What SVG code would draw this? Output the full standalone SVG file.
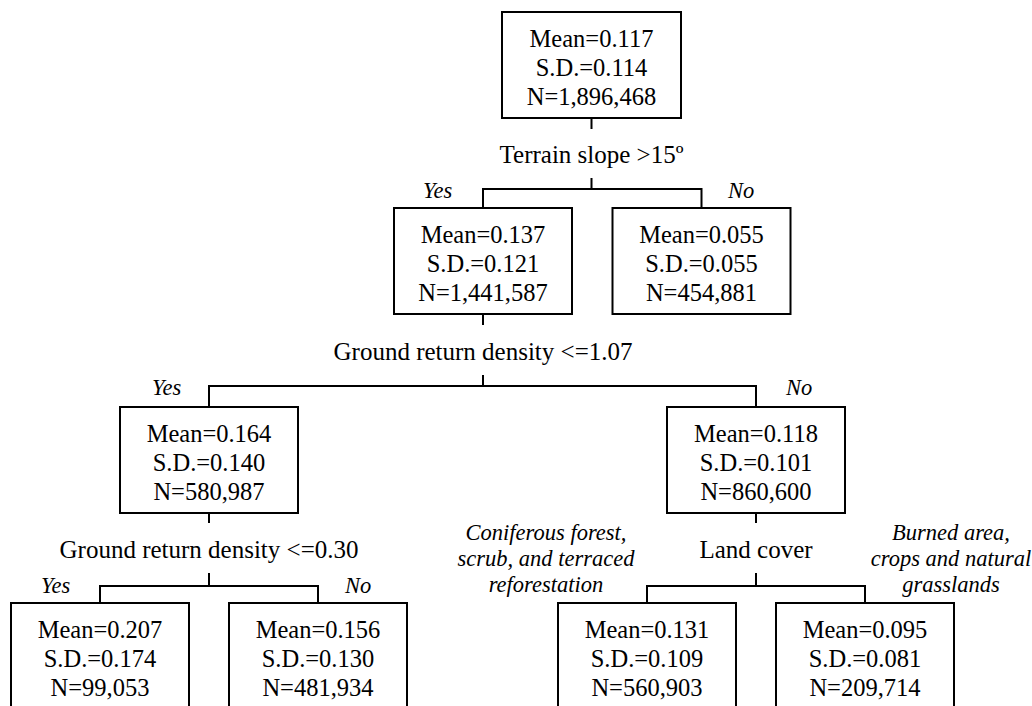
<svg xmlns="http://www.w3.org/2000/svg" width="1032" height="706" viewBox="0 0 1032 706">
<style>
.box{fill:#fff;stroke:#000;stroke-width:2}
.t{font-family:"Liberation Serif","Times New Roman",serif;font-size:24.5px;fill:#000;text-anchor:middle}
.c{font-family:"Liberation Serif","Times New Roman",serif;font-size:25px;fill:#000;text-anchor:middle}
.i{font-family:"Liberation Serif","Times New Roman",serif;font-size:22.5px;font-style:italic;fill:#000}
.m{text-anchor:middle}
.ln{fill:none;stroke:#000;stroke-width:2}
</style>
<rect width="1032" height="706" fill="#fff"/>
<g id="connectors">
<path class="ln" d="M591.5,118 V129 M591.5,178 V189 M483,208 V189 H701.5 V208"/>
<path class="ln" d="M483,314 V325 M483,375 V386 M209,407 V386 H756 V407"/>
<path class="ln" d="M209,513 V523 M209,573 V586 M100,603 V586 H318 V603"/>
<path class="ln" d="M756,513 V523 M756,573 V586 M647,603 V586 H865 V603"/>
<text class="c" x="591.5" y="163">Terrain slope &gt;15º</text>
<text class="c" x="483" y="360">Ground return density &lt;=1.07</text>
<text class="c" x="209" y="558">Ground return density &lt;=0.30</text>
<text class="c" x="756" y="558">Land cover</text>
<text class="i" x="423" y="198">Yes</text>
<text class="i" x="728" y="198">No</text>
<text class="i" x="152" y="395">Yes</text>
<text class="i" x="786" y="395">No</text>
<text class="i" x="41" y="593">Yes</text>
<text class="i" x="345" y="593">No</text>
<text class="i m" x="546" y="540">Coniferous forest,</text>
<text class="i m" x="546" y="566">scrub, and terraced</text>
<text class="i m" x="546" y="592">reforestation</text>
<text class="i m" x="951" y="540">Burned area,</text>
<text class="i m" x="951" y="566">crops and natural</text>
<text class="i m" x="951" y="592">grasslands</text>
</g>
<g id="root">
<rect class="box" x="502" y="12" width="179" height="106"/>
<text class="t" x="591.5" y="47">Mean=0.117</text>
<text class="t" x="591.5" y="76">S.D.=0.114</text>
<text class="t" x="591.5" y="105">N=1,896,468</text>
</g>
<g id="n1">
<rect class="box" x="394" y="208" width="178" height="106"/>
<text class="t" x="483" y="243">Mean=0.137</text>
<text class="t" x="483" y="272">S.D.=0.121</text>
<text class="t" x="483" y="301">N=1,441,587</text>
</g>
<g id="n2">
<rect class="box" x="612.5" y="208" width="178" height="106"/>
<text class="t" x="701.5" y="243">Mean=0.055</text>
<text class="t" x="701.5" y="272">S.D.=0.055</text>
<text class="t" x="701.5" y="301">N=454,881</text>
</g>
<g id="n3">
<rect class="box" x="120" y="407" width="178" height="106"/>
<text class="t" x="209" y="442">Mean=0.164</text>
<text class="t" x="209" y="471">S.D.=0.140</text>
<text class="t" x="209" y="500">N=580,987</text>
</g>
<g id="n4">
<rect class="box" x="667" y="407" width="178" height="106"/>
<text class="t" x="756" y="442">Mean=0.118</text>
<text class="t" x="756" y="471">S.D.=0.101</text>
<text class="t" x="756" y="500">N=860,600</text>
</g>
<g id="n5">
<rect class="box" x="11" y="603" width="178" height="106"/>
<text class="t" x="100" y="638">Mean=0.207</text>
<text class="t" x="100" y="667">S.D.=0.174</text>
<text class="t" x="100" y="696">N=99,053</text>
</g>
<g id="n6">
<rect class="box" x="229" y="603" width="178" height="106"/>
<text class="t" x="318" y="638">Mean=0.156</text>
<text class="t" x="318" y="667">S.D.=0.130</text>
<text class="t" x="318" y="696">N=481,934</text>
</g>
<g id="n7">
<rect class="box" x="558" y="603" width="178" height="106"/>
<text class="t" x="647" y="638">Mean=0.131</text>
<text class="t" x="647" y="667">S.D.=0.109</text>
<text class="t" x="647" y="696">N=560,903</text>
</g>
<g id="n8">
<rect class="box" x="776" y="603" width="178" height="106"/>
<text class="t" x="865" y="638">Mean=0.095</text>
<text class="t" x="865" y="667">S.D.=0.081</text>
<text class="t" x="865" y="696">N=209,714</text>
</g>
</svg>
